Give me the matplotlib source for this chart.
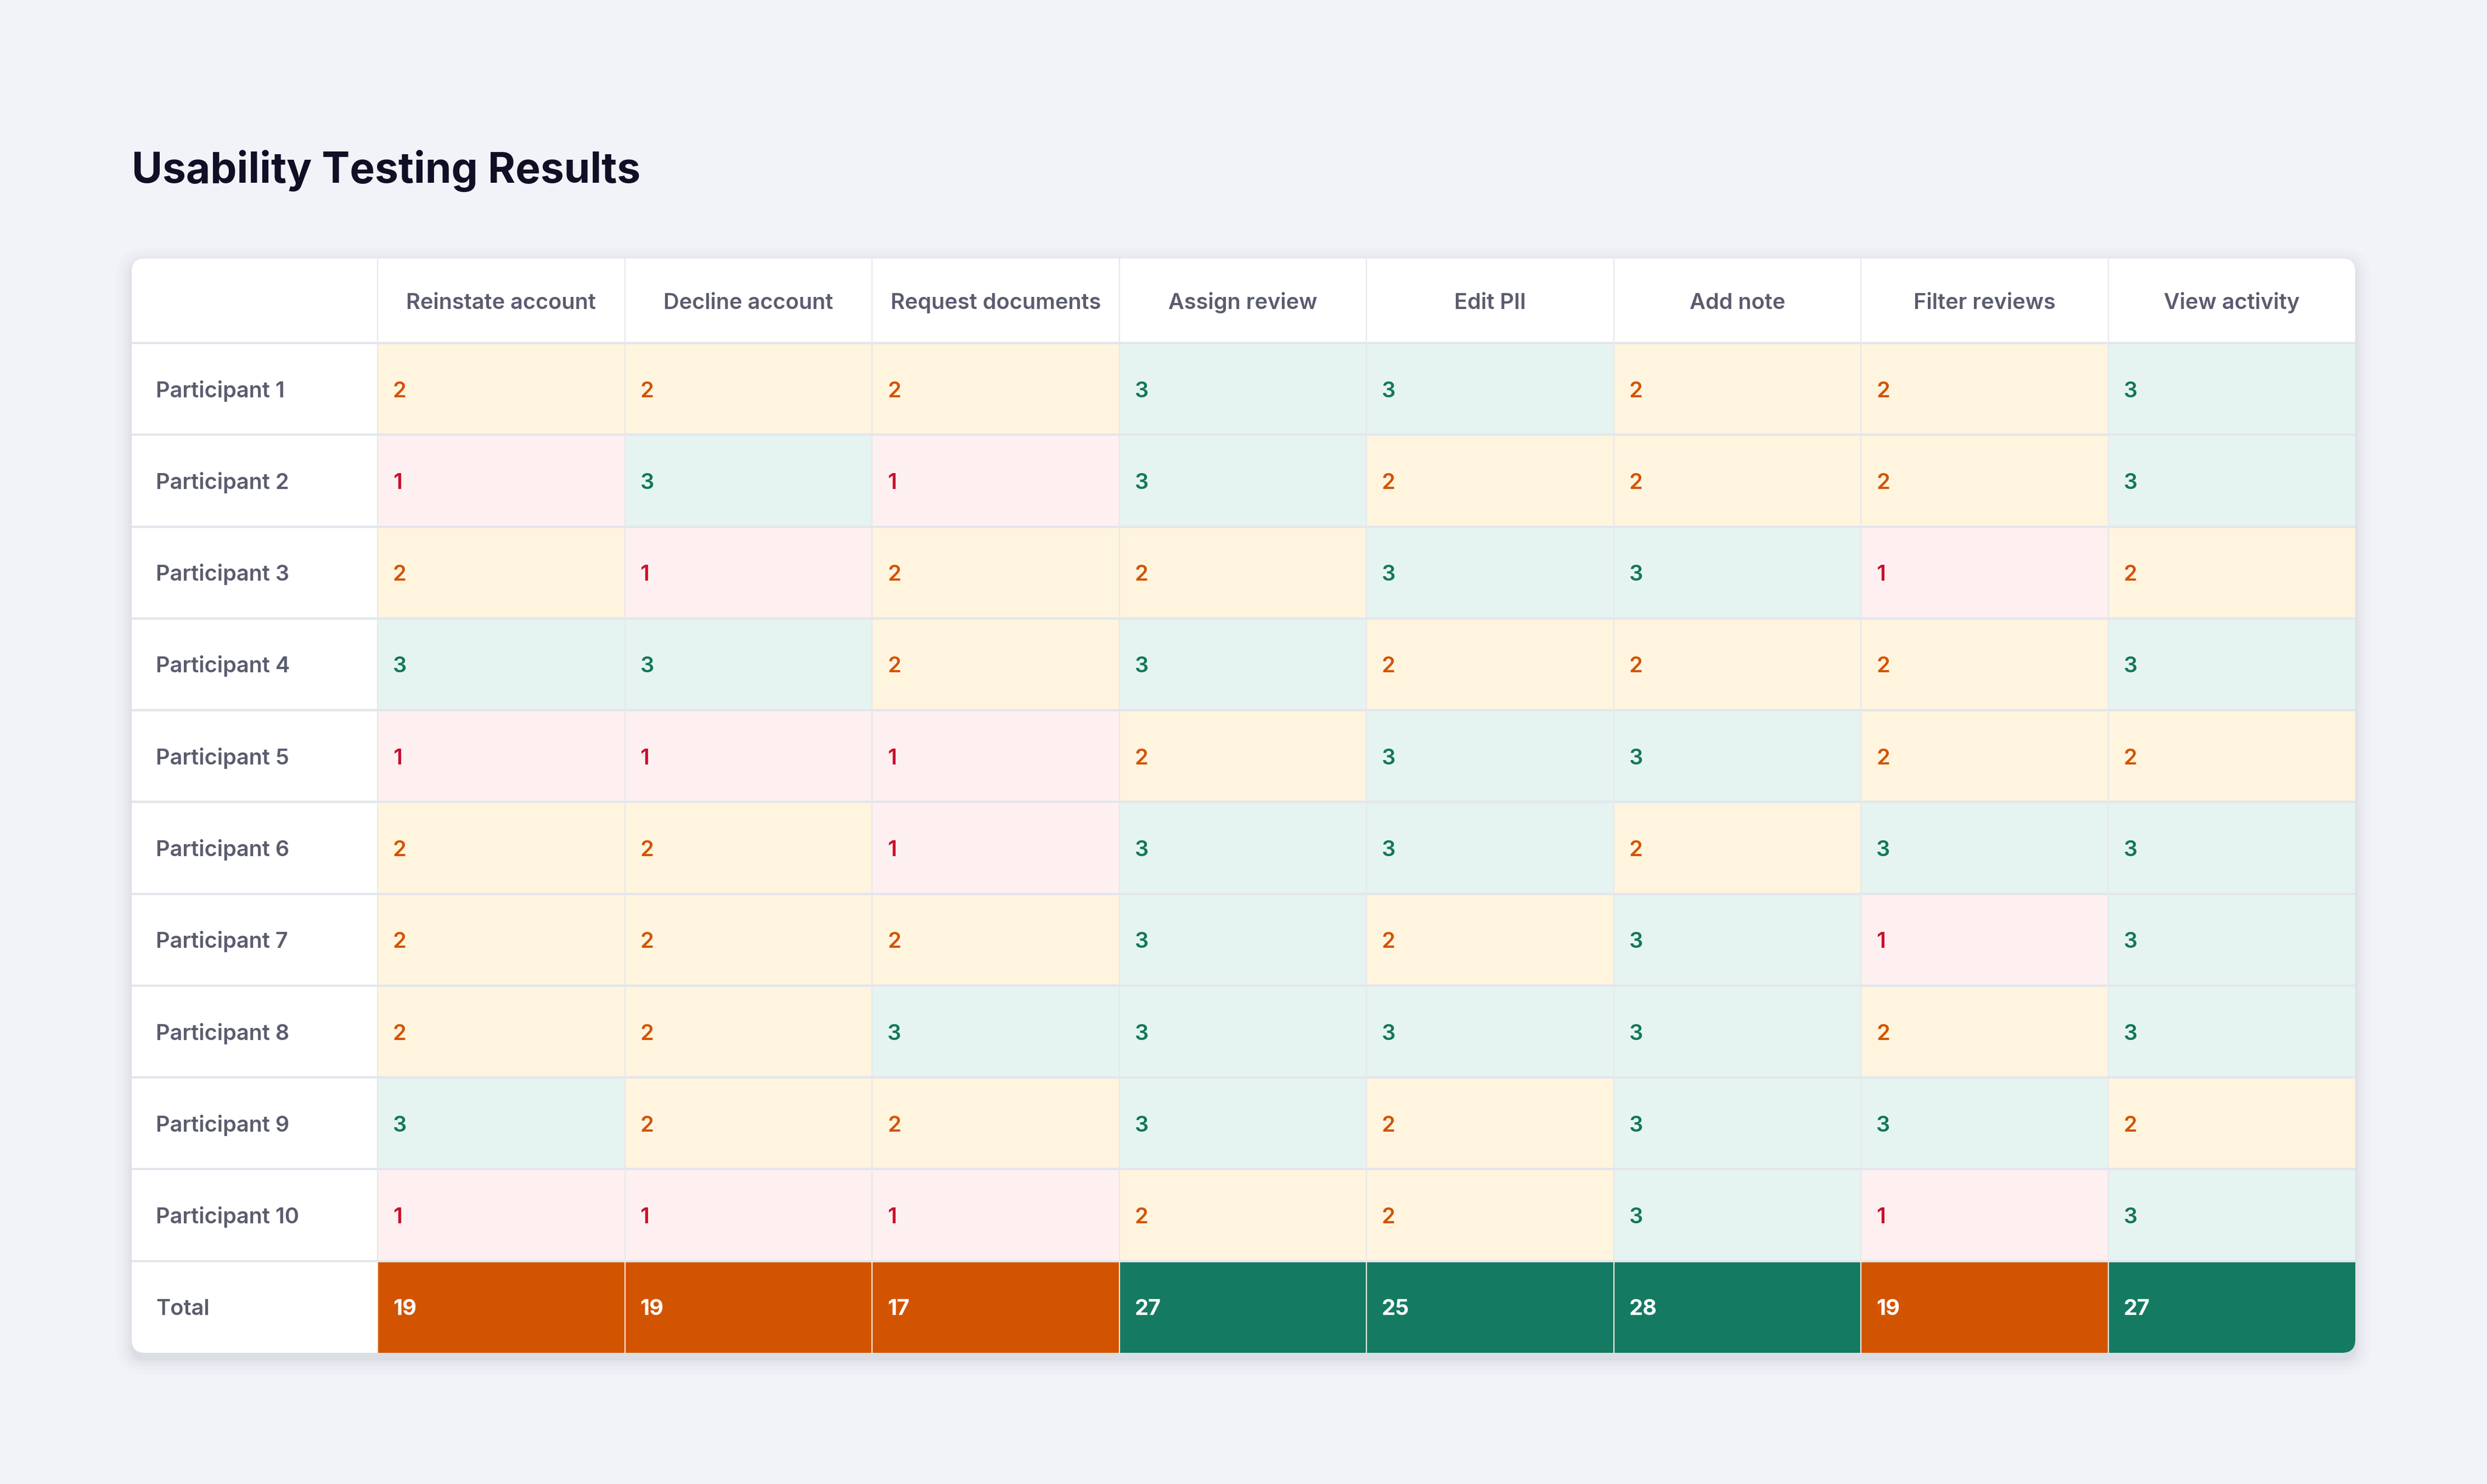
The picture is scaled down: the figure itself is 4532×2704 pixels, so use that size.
import matplotlib
matplotlib.use("Agg")
import matplotlib.pyplot as plt
from matplotlib.patches import FancyBboxPatch, Rectangle

plt.rcParams['font.family'] = ['Inter', 'DejaVu Sans']

title = "Usability Testing Results"
tasks = ["Reinstate account", "Decline account", "Request documents", "Assign review",
         "Edit PII", "Add note", "Filter reviews", "View activity"]
participants = ["Participant 1", "Participant 2", "Participant 3", "Participant 4",
                "Participant 5", "Participant 6", "Participant 7", "Participant 8",
                "Participant 9", "Participant 10"]
p1 = [2, 2, 2, 3, 3, 2, 2, 3]
p2 = [1, 3, 1, 3, 2, 2, 2, 3]
p3 = [2, 1, 2, 2, 3, 3, 1, 2]
p4 = [3, 3, 2, 3, 2, 2, 2, 3]
p5 = [1, 1, 1, 2, 3, 3, 2, 2]
p6 = [2, 2, 1, 3, 3, 2, 3, 3]
p7 = [2, 2, 2, 3, 2, 3, 1, 3]
p8 = [2, 2, 3, 3, 3, 3, 2, 3]
p9 = [3, 2, 2, 3, 2, 3, 3, 2]
p10 = [1, 1, 1, 2, 2, 3, 1, 3]
scores = [p1, p2, p3, p4, p5, p6, p7, p8, p9, p10]
total_label = "Total"
totals = [19, 19, 17, 27, 25, 28, 19, 27]

BG = "#F1F3F8"
CELL_BG = {1: "#FEF0F0", 2: "#FFF4DE", 3: "#E5F4F0"}
CELL_FG = {1: "#C8102E", 2: "#D35400", 3: "#13775B"}
TOTAL_LOW = "#D35400"
TOTAL_HIGH = "#157A62"
LABEL_C = "#5A5C6E"
TITLE_C = "#0F1026"

W, H = 4532, 2704
fig = plt.figure(figsize=(W / 200, H / 200), dpi=200, facecolor=BG)
ax = fig.add_axes([0, 0, 1, 1])
ax.set_xlim(0, W)
ax.set_ylim(H, 0)
ax.axis('off')

x0, x1 = 240, 4292
y0, y1 = 471, 2465
first_w = 448
head_h = 154
ncol = len(tasks)
nrow = len(participants) + 1
col_w = (x1 - x0 - first_w) / ncol
row_h = (y1 - y0 - head_h) / nrow
rad = 24

for pad, a in [(30, 0.010), (22, 0.013), (15, 0.018), (9, 0.024), (4, 0.03)]:
    sh = FancyBboxPatch((x0 - pad + 2, y0 - pad + 10), x1 - x0 + 2 * pad - 4, y1 - y0 + 2 * pad,
                        boxstyle=f"round,pad=0,rounding_size={rad + pad}",
                        fc="#1F2A44", ec="none", alpha=a, zorder=1)
    ax.add_patch(sh)

card = FancyBboxPatch((x0, y0), x1 - x0, y1 - y0,
                      boxstyle=f"round,pad=0,rounding_size={rad}",
                      fc="white", ec="none", zorder=2)
ax.add_patch(card)

FS = 14.3
WT = 600
BOFF = 15  # baseline offset below cell centre (px)
cx = lambda j: x0 + first_w + j * col_w
ry = lambda i: y0 + head_h + i * row_h

for j, t in enumerate(tasks):
    ax.text(cx(j) + col_w / 2, y0 + head_h / 2 + BOFF, t, ha='center', va='baseline',
            fontsize=FS, color=LABEL_C, fontweight=WT, zorder=5)

for i, (name, row) in enumerate(zip(participants, scores)):
    top = ry(i)
    ax.text(x0 + 44, top + row_h / 2 + BOFF, name, ha='left', va='baseline',
            fontsize=FS, color=LABEL_C, fontweight=WT, zorder=5)
    for j, v in enumerate(row):
        r = Rectangle((cx(j), top), col_w, row_h, fc=CELL_BG[v], ec='none', zorder=3)
        ax.add_patch(r)
        r.set_clip_path(card)
        ax.text(cx(j) + 28, top + row_h / 2 + BOFF, str(v), ha='left', va='baseline',
                fontsize=FS, color=CELL_FG[v], fontweight=WT, zorder=5)

top = ry(nrow - 1)
ax.text(x0 + 44, top + row_h / 2 + BOFF, total_label, ha='left', va='baseline',
        fontsize=FS, color=LABEL_C, fontweight=WT, zorder=5)
for j, v in enumerate(totals):
    c = TOTAL_HIGH if v >= 25 else TOTAL_LOW
    r = Rectangle((cx(j), top), col_w, row_h, fc=c, ec='none', zorder=3)
    ax.add_patch(r)
    r.set_clip_path(card)
    ax.text(cx(j) + 28, top + row_h / 2 + BOFF, str(v), ha='left', va='baseline',
            fontsize=FS, color='white', fontweight='bold', zorder=5)

for i in range(nrow):
    y = y0 + head_h + i * row_h
    ax.plot([x0, x1], [y, y], color="#E2E6EC", lw=1.5, zorder=4, solid_capstyle='butt')
for j in range(ncol):
    x = cx(j)
    ax.plot([x, x], [y0, ry(nrow - 1)], color="#E6E8EC", lw=0.8, zorder=4)
    ax.plot([x, x], [ry(nrow - 1), y1], color="#F3E6DC", lw=0.8, zorder=4)

ax.text(x0, 333, title, ha='left', va='baseline', fontsize=27.6, color=TITLE_C,
        fontweight='bold', zorder=5)

fig.savefig("out.png", dpi=200, facecolor=BG)
